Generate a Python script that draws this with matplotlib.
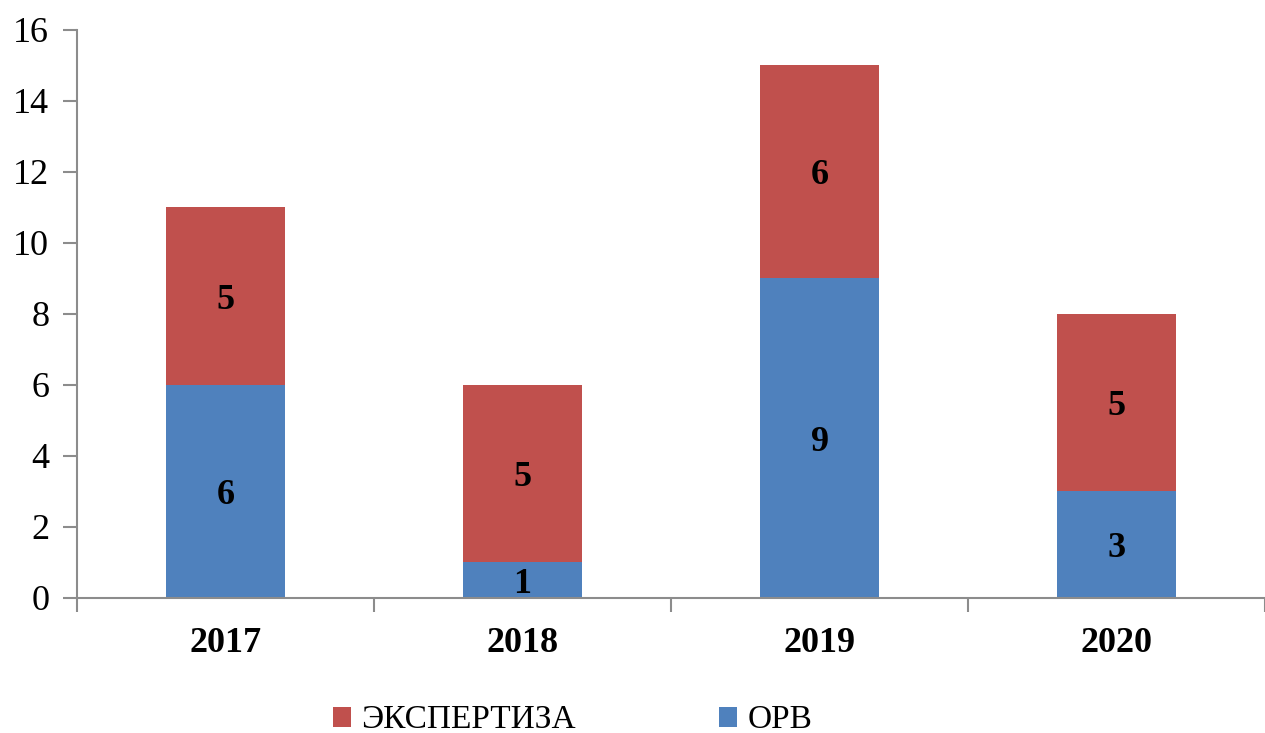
import numpy as np
import matplotlib.pyplot as plt

plt.rcParams['font.family'] = ['Liberation Serif', 'DejaVu Serif']

years = ['2017', '2018', '2019', '2020']
orv = [6, 1, 9, 3]
ekspertiza = [5, 5, 6, 5]

blue = '#4F81BD'
red = '#C0504D'
spine_col = '#8C8C8C'

fig = plt.figure(figsize=(12.65, 7.33), dpi=100)
ax = fig.add_axes([0.0609, 0.1842, 0.9391, 0.7749])

x = np.arange(len(years))
w = 0.4
b1 = ax.bar(x, orv, w, color=blue, label='ОРВ')
b2 = ax.bar(x, ekspertiza, w, bottom=orv, color=red, label='ЭКСПЕРТИЗА')

# подписи значений по центру сегментов
for xi, v1, v2 in zip(x, orv, ekspertiza):
    ax.text(xi, v1 / 2, str(v1), ha='center', va='center_baseline', fontsize=26, fontweight='bold')
    ax.text(xi, v1 + v2 / 2, str(v2), ha='center', va='center_baseline', fontsize=26, fontweight='bold')

ax.set_xlim(-0.5, len(years) - 0.5)
ax.set_ylim(0, 16)
ax.set_yticks(np.arange(0, 17, 2))
ax.tick_params(axis='y', labelsize=26, length=10, width=1.5, color=spine_col, pad=10)

# метки категорий без засечек, засечки между категориями
ax.set_xticks(x)
ax.set_xticklabels(years, fontsize=26, fontweight='bold')
ax.tick_params(axis='x', length=0, pad=21)
ax.set_xticks(np.arange(-0.5, len(years)), minor=True)
ax.tick_params(axis='x', which='minor', length=10, width=1.5, color=spine_col)

for s in ['top', 'right']:
    ax.spines[s].set_visible(False)
for s in ['left', 'bottom']:
    ax.spines[s].set_color(spine_col)
    ax.spines[s].set_linewidth(1.5)

ax.legend(handles=[b2, b1], loc='center', bbox_to_anchor=(0.417, -0.215), ncol=2,
          frameon=False, fontsize=24, handlelength=0.55, handleheight=0.55,
          handletextpad=0.3, columnspacing=4.3)

fig.savefig('out.png', dpi=100)
